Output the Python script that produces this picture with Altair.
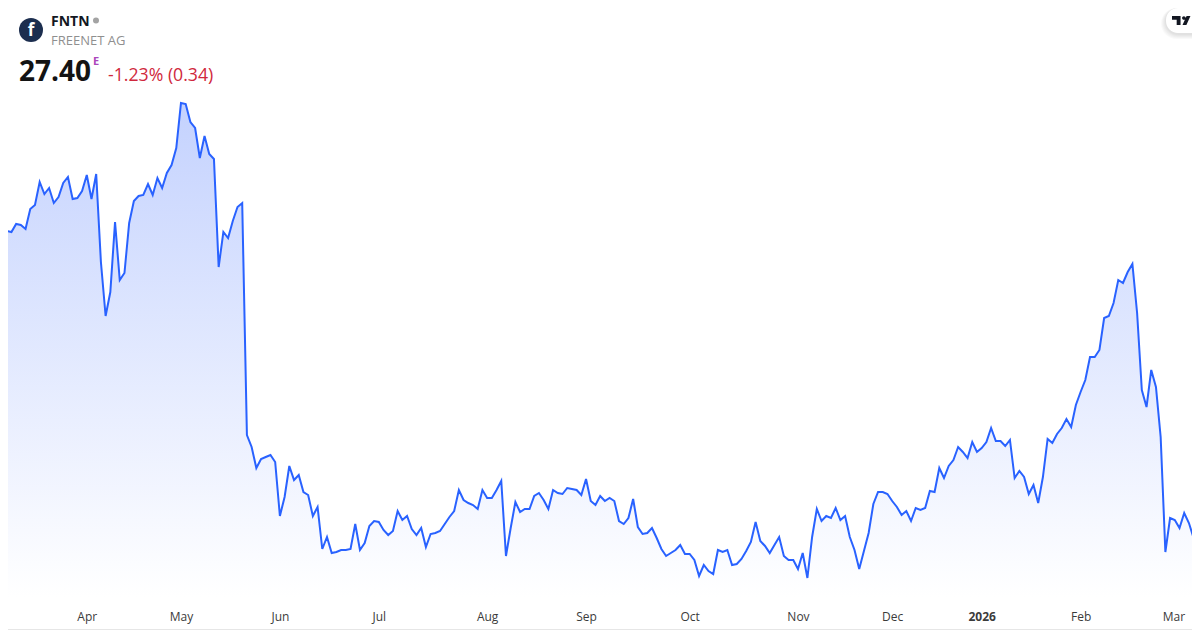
import altair as alt
import pandas as pd

SYMBOL = "FNTN"
COMPANY = "FREENET AG"
LAST = "27.40"
CHANGE = "-1.23% (0.34)"

prices = [
    30.47, 30.47, 30.46, 30.54, 30.53, 30.49, 30.69, 30.73, 30.96, 30.84,
    30.90, 30.75, 30.81, 30.95, 31.01, 30.79, 30.80, 30.87, 31.03, 30.79,
    31.04, 30.16, 29.62, 29.86, 30.56, 29.98, 30.05, 30.55, 30.77, 30.82,
    30.83, 30.94, 30.83, 31.00, 30.90, 31.05, 31.13, 31.30, 31.75, 31.74,
    31.56, 31.50, 31.20, 31.42, 31.24, 31.19, 30.11, 30.46, 30.40, 30.57,
    30.71, 30.75, 28.43, 28.31, 28.10, 28.19, 28.21, 28.23, 28.16, 27.62,
    27.81, 28.12, 27.98, 28.03, 27.86, 27.83, 27.62, 27.71, 27.29, 27.41,
    27.25, 27.26, 27.28, 27.28, 27.29, 27.54, 27.28, 27.35, 27.52, 27.57,
    27.56, 27.48, 27.43, 27.47, 27.67, 27.58, 27.62, 27.49, 27.43, 27.50,
    27.31, 27.44, 27.45, 27.47, 27.54, 27.61, 27.67, 27.88, 27.78, 27.75,
    27.73, 27.69, 27.88, 27.80, 27.80, 27.88, 27.97, 27.22, 27.50, 27.76,
    27.66, 27.69, 27.69, 27.82, 27.85, 27.78, 27.69, 27.88, 27.85, 27.84,
    27.90, 27.89, 27.88, 27.83, 27.99, 27.77, 27.73, 27.82, 27.77, 27.80,
    27.77, 27.57, 27.54, 27.60, 27.79, 27.51, 27.44, 27.45, 27.50, 27.40,
    27.29, 27.22, 27.25, 27.28, 27.33, 27.24, 27.24, 27.18, 27.02, 27.13,
    27.07, 27.04, 27.28, 27.26, 27.28, 27.13, 27.14, 27.19, 27.27, 27.36,
    27.56, 27.37, 27.32, 27.25, 27.33, 27.41, 27.22, 27.18, 27.18, 27.09,
    27.25, 27.00, 27.41, 27.69, 27.57, 27.62, 27.60, 27.70, 27.58, 27.62,
    27.41, 27.28, 27.09, 27.27, 27.45, 27.74, 27.86, 27.86, 27.84, 27.77,
    27.71, 27.63, 27.67, 27.57, 27.70, 27.68, 27.70, 27.87, 27.86, 28.10,
    28.00, 28.12, 28.18, 28.31, 28.26, 28.20, 28.36, 28.26, 28.30, 28.36,
    28.50, 28.37, 28.37, 28.32, 28.38, 28.00, 28.07, 28.01, 27.84, 27.93,
    27.75, 28.01, 28.39, 28.35, 28.44, 28.50, 28.59, 28.51, 28.73, 28.86,
    28.98, 29.21, 29.21, 29.28, 29.60, 29.62, 29.75, 29.98, 29.95, 30.06,
    30.14, 29.65, 28.88, 28.71, 29.08, 28.91, 28.41, 27.26, 27.60, 27.58,
    27.50, 27.65, 27.55, 27.40,
]
month_ticks = [18, 38, 59, 80, 103, 124, 146, 169, 189, 208, 229, 248.7]
month_labels = ["Apr", "May", "Jun", "Jul", "Aug", "Sep", "Oct", "Nov", "Dec", "2026", "Feb", "Mar"]

FONT = "Open Sans"
W, H = 1184, 597
LINE = "#2962ff"

df = pd.DataFrame({"i": list(range(len(prices))), "p": prices})
x_scale = alt.Scale(domain=[1.274, 252.654], nice=False, zero=False)
y_scale = alt.Scale(domain=[26.73, 32.70], nice=False, zero=False)

label_map = "{" + ",".join(f"'{t}':'{l}'" for t, l in zip(month_ticks, month_labels)) + "}"
x_axis = alt.Axis(
    values=month_ticks, labelExpr=f"{label_map}[datum.value]", title=None, domain=False, ticks=False,
    grid=False, labelFont=FONT, labelFontSize=12, labelColor="#3b3b3b", labelAngle=0, labelPadding=6,
    labelOverlap=False, labelBound=False, labelFlush=False, zindex=1,
    labelFontWeight={"condition": {"test": "datum.value == 208", "value": 700}, "value": 400},
)
x = alt.X("i:Q", scale=x_scale, axis=x_axis)
y = alt.Y("p:Q", scale=y_scale, axis=None, stack=None)

area = alt.Chart(df).mark_area(
    interpolate="linear",
    color=alt.Gradient(
        gradient="linear", x1=0, x2=0, y1=0, y2=1,
        stops=[
            alt.GradientStop(color="#c4d2fe", offset=0),
            alt.GradientStop(color="#ffffff", offset=1),
        ],
    ),
).encode(x=x, y=y, y2=alt.value(H - 8))
line = alt.Chart(df).mark_line(color=LINE, strokeWidth=2, interpolate="linear").encode(x=x, y=y)

one = alt.Data(values=[{"k": 1}])


def text(s, px, py, size, color, weight=400, align="left", **kw):
    return alt.Chart(one).mark_text(
        font=FONT, fontSize=size, color=color, fontWeight=weight, align=align, baseline="alphabetic", **kw
    ).encode(x=alt.value(px - 8), y=alt.value(py - 8), text=alt.value(s))


logo = alt.Chart(one).mark_point(filled=True, opacity=1, size=576, color="#1c2e4f", shape="circle").encode(
    x=alt.value(31 - 8), y=alt.value(30 - 8)
)
dot = alt.Chart(one).mark_point(filled=True, opacity=1, size=36, color="#a3a3a3", shape="circle").encode(
    x=alt.value(96 - 8), y=alt.value(20.5 - 8)
)

border_b = alt.Chart(one).mark_rule(color="#e6e6e6", strokeWidth=1).encode(
    y=alt.value(629.5 - 8), x=alt.value(0), x2=alt.value(W)
)

# chart-library badge, moved in so that the glyph fits the drawable width
BX = 1166
shadows = [
    alt.Chart(one).mark_rect(color="#000000", opacity=0.025, cornerRadius=12 + g).encode(
        x=alt.value(BX - 8 - g), x2=alt.value(1230), y=alt.value(0), y2=alt.value(26 + g)
    )
    for g in (5, 4, 3, 2, 1)
]
pill = alt.Chart(one).mark_rect(color="#ffffff", cornerRadius=12).encode(
    x=alt.value(BX - 8), x2=alt.value(1230), y=alt.value(0), y2=alt.value(25)
)
tv_path = (
    "M-1,-0.5 H-0.05 V0.5 H-0.48 V-0.08 H-1 Z "
    "M0.12,-0.28 A0.2,0.2 0 1 1 0.52,-0.28 A0.2,0.2 0 1 1 0.12,-0.28 Z "
    "M0.62,-0.5 H1.05 L0.6,0.5 H0.17 Z"
)
tv = alt.Chart(one).mark_point(filled=True, opacity=1, size=324, color="#131722", shape=tv_path).encode(
    x=alt.value(BX + 15 - 8), y=alt.value(20.5 - 8)
)

chart = alt.layer(
    area, line, border_b, *shadows, pill, tv, logo,
    text("f", 31, 36, 17, "#ffffff", 700, "center"),
    text(SYMBOL, 51, 26, 14, "#131722", 700),
    dot,
    text(COMPANY, 51, 45, 13, "#8f8f8f", 400),
    text(LAST, 19, 81, 28, "#131313", 700),
    text("E", 93, 65, 11, "#ab47bc", 700),
    text(CHANGE, 108, 81, 17.7, "#d0283c", 400),
).properties(
    width=W, height=H, background="#ffffff",
    padding={"left": 0, "top": 0, "right": 0, "bottom": 622 - H},
    autosize=alt.AutoSizeParams(type="none"),
).configure_view(stroke=None)

chart.save("out.html", embed_options={"renderer": "svg", "actions": False})
